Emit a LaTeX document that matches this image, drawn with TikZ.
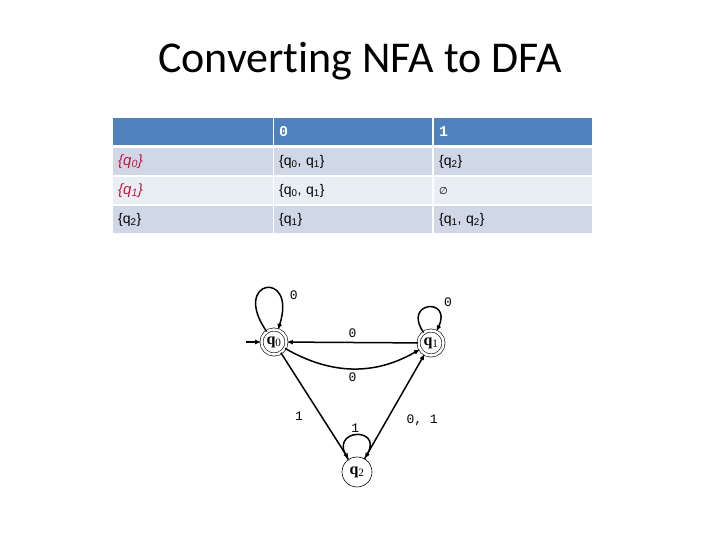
\documentclass[tikz,border=0pt]{standalone}
\usepackage{fontspec}
\setmainfont{Carlito}[Ligatures=NoCommon]
\newfontfamily\cellfont{Liberation Sans}
\newfontfamily\labfont{Liberation Mono}
\newfontfamily\statefont{Liberation Serif}
\newfontfamily\symfont{DejaVu Sans}
\usetikzlibrary{arrows.meta}
\definecolor{hdrblue}{RGB}{79,129,189}
\definecolor{rowdark}{RGB}{208,216,232}
\definecolor{rowlight}{RGB}{233,237,244}
\definecolor{setred}{RGB}{196,22,60}

\begin{document}
\begin{tikzpicture}[x=1pt, y=1pt, >={Latex[length=6pt,width=5pt]},
    cell/.style={anchor=north west, minimum height=27pt, text width=148pt,
                 inner xsep=5pt, inner ysep=0pt, align=left,
                 font=\cellfont\fontsize{14}{16}\selectfont},
    firstcol/.style={text width=150pt},
    head/.style={cell, fill=hdrblue, text=white,
                 font=\labfont\bfseries\fontsize{15}{16}\selectfont},
    rowa/.style={cell, fill=rowdark},
    rowb/.style={cell, fill=rowlight},
    redset/.style={text=setred, font=\cellfont\itshape\fontsize{15}{16}\selectfont},
    state/.style={circle, draw, line width=0.6pt, minimum size=30pt,
                  inner sep=0pt, font=\statefont\fontsize{16}{16}\selectfont},
    accstate/.style={state, double, double distance=2.5pt, minimum size=25pt},
    trans/.style={->, line width=1.5pt},
    tlab/.style={font=\labfont\fontsize{13}{14}\selectfont, inner sep=1pt},
]
\useasboundingbox (0,0) rectangle (720,540);

% --- titulo ---
\node[font=\fontsize{44}{52}\selectfont, anchor=base] (title) at (360,467)
    {Converting NFA to DFA};

% --- tabla de transiciones ---
\node[head, firstcol] (h0) at (113,422) {};
\node[head] (h1) at (274,422) {0};
\node[head] (h2) at (434,422) {1};

\node[rowa, firstcol, redset] (a0) at (113,392) {\{q\textsubscript{0}\}};
\node[rowa] (a1) at (274,392) {\{q\textsubscript{0}, q\textsubscript{1}\}};
\node[rowa] (a2) at (434,392) {\{q\textsubscript{2}\}};

\node[rowb, firstcol, redset] (b0) at (113,363) {\{q\textsubscript{1}\}};
\node[rowb] (b1) at (274,363) {\{q\textsubscript{0}, q\textsubscript{1}\}};
\node[rowb] (b2) at (434,363) {{\symfont\fontsize{10}{10}\selectfont ∅}};

\node[rowa, firstcol] (c0) at (113,334) {\{q\textsubscript{2}\}};
\node[rowa] (c1) at (274,334) {\{q\textsubscript{1}\}};
\node[rowa] (c2) at (434,334) {\{q\textsubscript{1}, q\textsubscript{2}\}};

% --- automata ---
\node[accstate] (q0) at (274,198) {\textbf{q}\textsubscript{0}};
\node[accstate] (q1) at (431,197) {\textbf{q}\textsubscript{1}};
\node[state]    (q2) at (357,68)  {\textbf{q}\textsubscript{2}};
\coordinate (start) at (246,198);

\draw[trans] (start) -- (q0);
\draw[trans] (q0) to[out=125, in=72, min distance=64pt]
    node[tlab, pos=0.72, right=10pt] {0} (q0);
\draw[trans] (q1) to[out=125, in=65, min distance=38pt]
    node[tlab, pos=0.62, anchor=south west, xshift=9pt] {0} (q1);
\draw[trans] (q2) to[out=125, in=60, min distance=38pt]
    node[tlab, above=1pt] {1} (q2);

\draw[trans] (q1) -- node[tlab, above=3pt] {0} (q0);
\draw[trans] (q0) to[out=-30, in=210] node[tlab, below=2pt] {0} (q1);
\draw[trans] (q0) -- node[tlab, pos=0.6, left=17pt] {1} (q2);
\draw[trans] (q2) -- node[tlab, pos=0.37, right=18pt] {0, 1} (q1);

\end{tikzpicture}
\end{document}
